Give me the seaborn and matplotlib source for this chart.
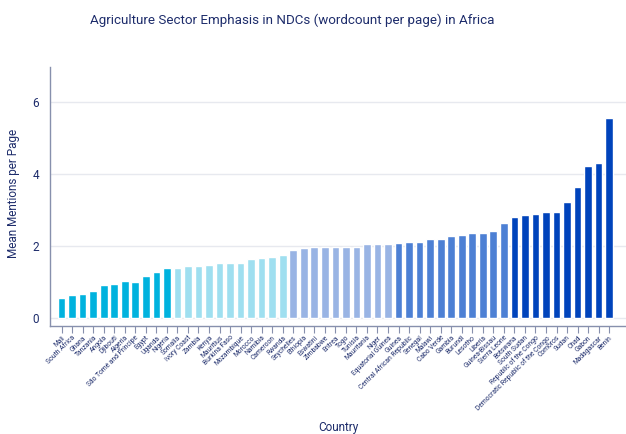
import matplotlib
matplotlib.use("Agg")
import matplotlib.pyplot as plt
import seaborn as sns
import pandas as pd

countries = [
    "Mali", "South Africa", "Ghana", "Tanzania", "Angola", "Djibouti", "Algeria",
    "São Tomé and Príncipe", "Egypt", "Uganda", "Nigeria",
    "Somalia", "Ivory Coast", "Zambia", "Kenya", "Mauritius", "Burkina Faso",
    "Mozambique", "Morocco", "Namibia", "Cameroon", "Rwanda",
    "Seychelles", "Ethiopia", "Eswatini", "Zimbabwe", "Eritrea", "Togo", "Tunisia",
    "Mauritania", "Niger", "Equatorial Guinea",
    "Guinea", "Central African Republic", "Senegal", "Malawi", "Cabo Verde",
    "Gambia", "Burundi", "Lesotho", "Liberia", "Guinea-Bissau", "Sierra Leone",
    "Botswana", "South Sudan", "Republic of the Congo",
    "Democratic Republic of the Congo", "Comoros", "Sudan", "Chad", "Gabon",
    "Madagascar", "Benin",
]

mentions = [
    0.55, 0.63, 0.66, 0.75, 0.93, 0.94, 1.02, 1.00, 1.16, 1.27, 1.40,
    1.39, 1.44, 1.45, 1.47, 1.52, 1.52, 1.54, 1.65, 1.67, 1.69, 1.74,
    1.90, 1.94, 1.96, 1.97, 1.97, 1.97, 1.97, 2.05, 2.06, 2.06,
    2.08, 2.10, 2.12, 2.19, 2.19, 2.27, 2.32, 2.36, 2.36, 2.41, 2.63,
    2.81, 2.87, 2.88, 2.95, 2.95, 3.21, 3.65, 4.21, 4.31, 5.55,
]

tiers = [0] * 11 + [1] * 11 + [2] * 10 + [3] * 11 + [4] * 10
tier_colors = ["#00b2de", "#9fdff0", "#99b4e4", "#4d80d4", "#0043bb"]

df = pd.DataFrame({"Country": countries, "Mentions": mentions, "Tier": tiers})

sns.set_theme(style="white")
plt.rcParams["font.family"] = ["Roboto", "DejaVu Sans"]

navy = "#1d2c6b"
spine = "#8790ad"

fig = plt.figure(figsize=(6.26, 4.34), dpi=100)
ax = fig.add_axes([50 / 626, 1 - 326 / 434, 576 / 626, 259 / 434])

sns.barplot(
    data=df, x="Country", y="Mentions", hue="Tier",
    palette=tier_colors, dodge=False, width=0.73, legend=False,
    saturation=1, ax=ax,
)

ax.set_xlim(-1.1, 53.6)
ax.set_ylim(-0.22, 6.97)
ax.set_yticks([0, 2, 4, 6])
ax.yaxis.grid(True, color="#e7e9ef", linewidth=1)
ax.set_axisbelow(True)

for s in ["top", "right"]:
    ax.spines[s].set_visible(False)
for s in ["left", "bottom"]:
    ax.spines[s].set_color(spine)
    ax.spines[s].set_linewidth(1)

ax.tick_params(axis="y", length=0, pad=8, labelsize=8.5, labelcolor=navy)
ax.tick_params(axis="x", length=5, width=0.8, color=spine, pad=1,
               labelsize=4.9, labelcolor=navy, bottom=True)
plt.setp(ax.get_xticklabels(), rotation=45, ha="right", rotation_mode="anchor")

ax.set_xlabel("Country", fontsize=8.5, color=navy, labelpad=0)
ax.xaxis.set_label_coords(0.5, -(421 - 326) / 259, transform=ax.transAxes)
ax.set_ylabel("Mean Mentions per Page", fontsize=8.5, color=navy)
ax.yaxis.set_label_coords(-(50 - 20) / 576, (326 - 193) / 259)

fig.text(292 / 626, 1 - 20 / 434,
         "Agriculture Sector Emphasis in NDCs (wordcount per page) in Africa",
         ha="center", va="center", fontsize=9.6, color=navy)

fig.savefig("out.png", dpi=100, facecolor="white")
